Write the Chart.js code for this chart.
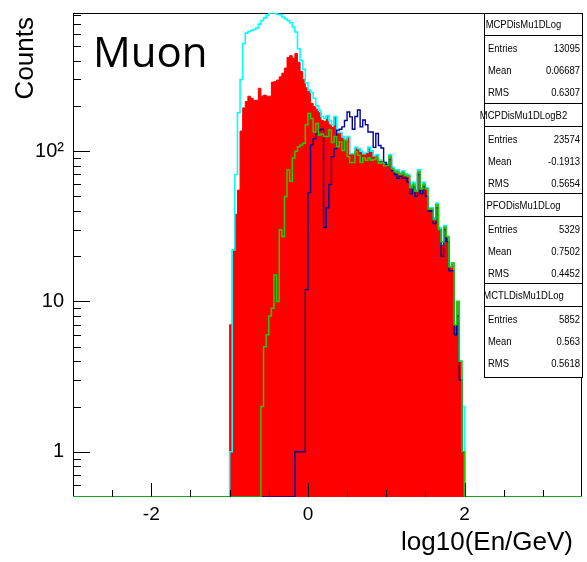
<!DOCTYPE html>
<html>
<head>
<meta charset="utf-8">
<script src="https://cdn.jsdelivr.net/npm/chart.js@4.4.1/dist/chart.umd.min.js"></script>
<style>
  html, body { margin: 0; padding: 0; background: #ffffff; }
  #wrap { position: relative; width: 587px; height: 562px; }
</style>
</head>
<body>
<div id="wrap"><canvas id="c" width="587" height="562"></canvas></div>
<script>
// Histogram binning: 90 bins of width 1/30 in log10(E/GeV), from -1 to 2
const BIN_LO = -1;
const BIN_WIDTH = 1 / 30;
const X_MIN = -3, X_MAX = 3.5;
const Y_MIN = 0.5, Y_MAX = 830;

// Bin contents, lowest bin first
const mcpDisMu = [
  7, 22, 38, 55, 136, 194, 214, 232, 225, 218,
  218, 262, 232, 236, 232, 232, 288, 290, 297, 312,
  330, 357, 420, 432, 415, 446, 390, 339, 300, 264,
  250, 208, 198, 190, 180, 160, 158, 172, 150, 144,
  170, 131, 133, 122, 120, 125, 96, 96, 106, 104,
  100, 96, 98, 106, 100, 93, 95, 87, 87, 83,
  83, 95, 78, 75, 75, 72, 74, 71, 70, 58,
  62, 55, 75, 57, 62, 57, 42, 42, 36, 45,
  31, 24, 32, 27, 17, 18, 7, 10, 4, 1
];
const mcpDisMuB2 = [
  1, 22, 70, 180, 300, 520, 610, 625, 635, 645,
  660, 700, 740, 770, 800, 830, 830, 830, 815, 810,
  780, 760, 740, 715, 670, 620, 480, 400, 350, 285,
  255, 245, 225, 200, 187, 170, 165, 172, 160, 150,
  170, 135, 133, 125, 120, 125, 96, 96, 106, 104,
  100, 96, 98, 106, 100, 93, 95, 87, 87, 83,
  83, 95, 78, 75, 75, 72, 74, 71, 70, 58,
  62, 55, 75, 57, 62, 57, 42, 42, 36, 45,
  31, 24, 32, 27, 17, 18, 7, 10, 4, 2
];
const pfoDisMu = [
  0, 0, 0, 0, 0, 0, 0, 0, 0, 0,
  0, 0, 0, 0, 0, 0, 0, 0, 0, 0,
  0, 0, 0, 0, 0, 1, 1, 1, 1, 12,
  53, 110, 121, 130, 138, 140, 31, 42, 60, 92,
  104, 138, 140, 145, 160, 182, 169, 140, 170, 188,
  145, 161, 150, 134, 134, 106, 131, 109, 105, 84,
  80, 88, 74, 70, 66, 68, 66, 66, 62, 52,
  58, 50, 70, 52, 58, 50, 40, 40, 33, 42,
  30, 20, 30, 25, 16, 16, 6, 8, 3, 1
];
const mctlDisMu = [
  0, 0, 0, 0, 0, 0, 0, 0, 0, 0,
  0, 0, 2, 5, 6, 8, 9, 15, 10, 30,
  27, 50, 75, 63, 90, 100, 107, 110, 113, 150,
  178, 165, 134, 153, 128, 130, 125, 125, 138, 114,
  125, 107, 115, 101, 118, 92, 84, 84, 99, 94,
  84, 90, 87, 90, 87, 88, 90, 83, 84, 80,
  80, 92, 76, 73, 72, 70, 72, 69, 68, 57,
  60, 54, 73, 56, 60, 56, 41, 41, 35, 44,
  30, 25, 31, 27, 17, 18, 7, 10, 4, 1
];

// Axis tick values and labels
const xMajorTicks = [-2, 0, 2];
const xMinorStep = 0.5;
const yMajorTicks = [1, 10, 100];
const yTickLabels = ['1', '10', '10\u00B2'];

// Statistics panels, top to bottom
const statNames = ['MCPDisMu1DLog', 'MCPDisMu1DLogB2', 'PFODisMu1DLog', 'MCTLDisMu1DLog'];
const statEntries = ['13095', '23574', '5329', '5852'];
const statMeans = ['0.06687', '-0.1913', '0.7502', '0.563'];
const statRMS = ['0.6307', '0.5654', '0.4452', '0.5618'];

// Outline of a histogram as stepped points; empty bins sit on the frame floor
function histPoints(counts) {
  const pts = [{ x: X_MIN, y: Y_MIN }];
  counts.forEach((c, i) => pts.push({ x: BIN_LO + i * BIN_WIDTH, y: c > 0 ? c : Y_MIN }));
  pts.push({ x: BIN_LO + counts.length * BIN_WIDTH, y: Y_MIN });
  pts.push({ x: X_MAX, y: Y_MIN });
  return pts;
}

function histDataset(label, counts, color, width, order, fill) {
  return {
    label, data: histPoints(counts), order,
    stepped: true, borderColor: color, borderWidth: width,
    backgroundColor: fill ? color : 'transparent', fill: fill ? 'start' : false,
    pointRadius: 0, tension: 0, borderJoinStyle: 'miter'
  };
}

function scaledText(ctx, text, x, y, align, font, sx) {
  ctx.save();
  ctx.translate(x, y);
  ctx.scale(sx, 1);
  ctx.font = font;
  ctx.textAlign = align;
  ctx.textBaseline = 'alphabetic';
  ctx.fillText(text, 0, 0);
  ctx.restore();
}

const decorations = {
  id: 'decorations',
  beforeDatasetsDraw(chart) {
    const { ctx, chartArea: a } = chart;
    ctx.save();
    ctx.strokeStyle = '#000';
    ctx.lineWidth = 1;
    ctx.strokeRect(Math.round(a.left) + 0.5, Math.round(a.top) + 0.5,
      Math.round(a.right - a.left) - 1, Math.round(a.bottom - a.top) - 1);
    ctx.restore();
  },
  afterDatasetsDraw(chart) {
    const { ctx, chartArea: a, scales: { x, y } } = chart;
    ctx.save();
    ctx.strokeStyle = '#000';
    ctx.lineWidth = 1;
    ctx.beginPath();
    // x ticks, pointing into the frame
    for (let v = X_MIN + xMinorStep; v < X_MAX - 1e-9; v += xMinorStep) {
      const px = Math.round(x.getPixelForValue(v)) + 0.5;
      const major = xMajorTicks.some(t => Math.abs(t - v) < 1e-9);
      ctx.moveTo(px, a.bottom);
      ctx.lineTo(px, a.bottom - (major ? 14 : 7));
    }
    // y ticks: decades long, sub-decades short
    for (let d = -1; d <= 2; d++) {
      for (let m = 1; m <= 9; m++) {
        const v = m * Math.pow(10, d);
        if (v <= Y_MIN || v >= Y_MAX) continue;
        const py = Math.round(y.getPixelForValue(v)) + 0.5;
        ctx.moveTo(a.left, py);
        ctx.lineTo(a.left + (m === 1 ? 17 : 8), py);
      }
    }
    ctx.stroke();
    ctx.restore();
  },
  afterDraw(chart) {
    const { ctx, chartArea: a } = chart;
    ctx.save();
    ctx.fillStyle = '#000';
    // axis titles
    ctx.font = '26px "Liberation Sans", Arial, sans-serif';
    ctx.textAlign = 'right';
    ctx.textBaseline = 'alphabetic';
    ctx.fillText('log10(En/GeV)', a.right - 9, 550);
    ctx.save();
    ctx.translate(33, a.top + 4);
    ctx.rotate(-Math.PI / 2);
    ctx.fillText('Counts', 0, 0);
    ctx.restore();
    // particle label
    ctx.font = '42px "Open Sans", sans-serif';
    ctx.textAlign = 'left';
    ctx.fillText('Muon', 93, 67);

    // statistics panels
    const boxL = 484, boxR = 583;
    const tops = [12.5, 103, 193, 283];
    const bottoms = [103, 193, 283, 377];
    statNames.forEach((name, i) => {
      const t = tops[i], b = bottoms[i];
      ctx.fillStyle = '#fff';
      ctx.fillRect(boxL, t, boxR - boxL, b - t);
      ctx.strokeStyle = '#000';
      ctx.lineWidth = 1;
      ctx.strokeRect(boxL + 0.5, Math.round(t) + 0.5, boxR - boxL - 1, Math.round(b - t));
      ctx.beginPath();
      ctx.moveTo(boxL, Math.round(t + 22.5) + 0.5);
      ctx.lineTo(boxR, Math.round(t + 22.5) + 0.5);
      ctx.stroke();
      ctx.fillStyle = '#000';
      scaledText(ctx, name, 523.5, t + 15.5, 'center', '11px "Liberation Sans", Arial, sans-serif', 0.86);
      const rows = [['Entries', statEntries[i]], ['Mean', statMeans[i]], ['RMS', statRMS[i]]];
      rows.forEach((r, j) => {
        const base = t + 39.5 + j * 22;
        scaledText(ctx, r[0], 488, base, 'left', '11.5px "Liberation Sans", Arial, sans-serif', 0.82);
        scaledText(ctx, r[1], 580, base, 'right', '11.5px "Liberation Sans", Arial, sans-serif', 0.82);
      });
    });
    ctx.restore();
  }
};

new Chart(document.getElementById('c'), {
  type: 'line',
  data: {
    datasets: [
      histDataset('MCPDisMu1DLog', mcpDisMu, '#ff0000', 1, 4, true),
      histDataset('MCPDisMu1DLogB2', mcpDisMuB2, '#00ffff', 1.6, 3, false),
      histDataset('PFODisMu1DLog', pfoDisMu, '#000099', 1.4, 2, false),
      histDataset('MCTLDisMu1DLog', mctlDisMu, '#22cc00', 1.5, 1, false)
    ]
  },
  options: {
    responsive: false,
    animation: false,
    devicePixelRatio: 1,
    layout: { padding: { left: 0, right: 5, top: 13, bottom: 0 } },
    plugins: { legend: { display: false }, tooltip: { enabled: false } },
    scales: {
      x: {
        type: 'linear', min: X_MIN, max: X_MAX,
        grid: { display: false, drawTicks: false },
        border: { display: false },
        afterBuildTicks: s => { s.ticks = xMajorTicks.map(v => ({ value: v })); },
        afterFit: s => { s.height = 65; s.paddingLeft = 0; s.paddingRight = 0; },
        ticks: {
          padding: 6, color: '#000', maxRotation: 0, autoSkip: false,
          font: { family: '"Liberation Sans", Arial, sans-serif', size: 19 },
          callback: v => String(v)
        }
      },
      y: {
        type: 'logarithmic', min: Y_MIN, max: Y_MAX,
        grid: { display: false, drawTicks: false },
        border: { display: false },
        afterBuildTicks: s => { s.ticks = yMajorTicks.map(v => ({ value: v })); },
        afterFit: s => { s.width = 73; s.paddingTop = 0; s.paddingBottom = 0; },
        ticks: {
          padding: 9, color: '#000', autoSkip: false,
          font: { family: '"Liberation Sans", Arial, sans-serif', size: 20 },
          callback: (v, i) => yTickLabels[i]
        }
      }
    }
  },
  plugins: [decorations]
});
</script>
</body>
</html>
